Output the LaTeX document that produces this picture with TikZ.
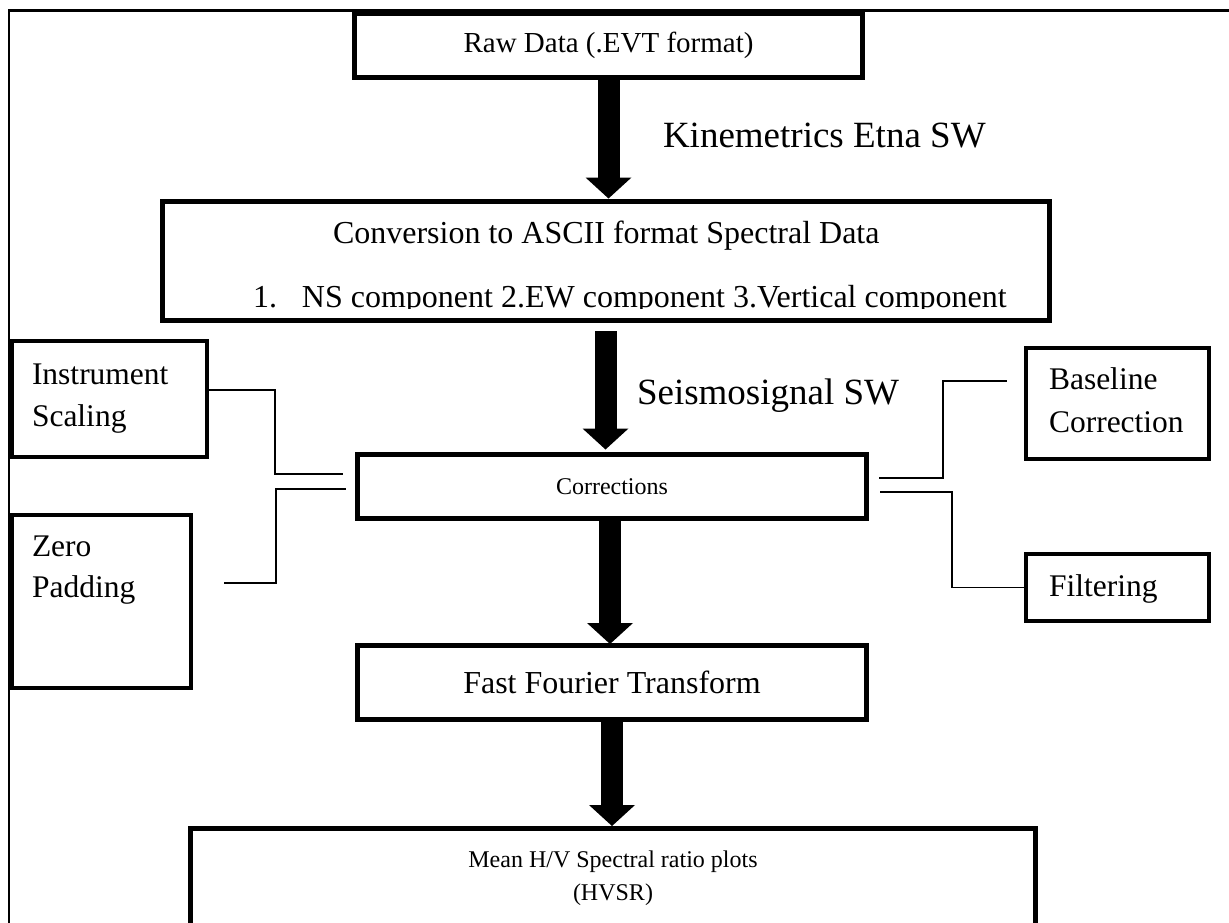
\documentclass[tikz,border=0pt]{standalone}
\usepackage{fontspec}
\setmainfont{Liberation Serif}
\usetikzlibrary{arrows.meta}
\tikzset{
  mainbox/.style={draw, line width=5pt, inner sep=0pt, outer sep=0pt},
  sidebox/.style={draw, line width=4pt, inner sep=0pt, outer sep=0pt},
  link/.style={line width=1.5pt},
  bigarrow/.style={line width=22pt, -{Triangle[width=46pt,length=21pt,line width=0pt]}},
  txt/.style={inner sep=0pt, outer sep=0pt, anchor=base west},
  fbig/.style={font=\fontsize{32}{38}\selectfont},
  fside/.style={font=\fontsize{31.5}{42}\selectfont},
  fsw/.style={font=\fontsize{37}{44}\selectfont},
}
\begin{document}
\begin{tikzpicture}[x=1pt, y=-1pt]
\useasboundingbox (0,0) rectangle (1229,923);
\clip (0,0) rectangle (1229,923);
% outer frame
\draw[line width=2.2pt] (9,940) -- (9,10.5) -- (1240,10.5);

% main boxes
\node[mainbox, minimum width=508pt, minimum height=64pt, font=\fontsize{29}{35}\selectfont] (raw) at (608.5,45.5) {Raw Data (.EVT format)};
\node[mainbox, minimum width=887pt, minimum height=119pt] (conv) at (606,261) {};
\begin{scope}
  \clip (165,204) rectangle (1047,308.5);
  \node[txt, fbig] (convA) at (333,243) {Conversion to ASCII format Spectral Data};
  \node[txt, fbig] (convB) at (253,307) {\makebox[49pt][l]{1.}NS component 2.EW component 3.Vertical component};
\end{scope}
\node[mainbox, minimum width=509pt, minimum height=64pt, font=\fontsize{24}{30}\selectfont] (corr) at (612,486.5) {Corrections};
\node[mainbox, minimum width=509pt, minimum height=74pt, fbig] (fft) at (612,682.5) {Fast Fourier Transform};
\node[mainbox, minimum width=845pt, minimum height=100pt, align=center, font=\fontsize{24}{33}\selectfont] (mean) at (613,878.5) {Mean H/V Spectral ratio plots\\(HVSR)};

% side boxes
\node[sidebox, minimum width=195pt, minimum height=116pt] (inst) at (109.5,399) {};
\node[txt, fside] (instA) at (32,384) {Instrument};
\node[txt, fside] (instB) at (32,426) {Scaling};
\node[sidebox, minimum width=179pt, minimum height=173pt] (zero) at (101.5,601.5) {};
\node[txt, fside] (zeroA) at (32,556) {Zero};
\node[txt, fside] (zeroB) at (32,597) {Padding};
\node[sidebox, minimum width=183pt, minimum height=111pt] (base) at (1117.5,403.5) {};
\node[txt, fside] (baseA) at (1049,389) {Baseline};
\node[txt, fside] (baseB) at (1049,432) {Correction};
\node[sidebox, minimum width=183pt, minimum height=67pt] (filt) at (1117.5,587.5) {};
\node[txt, fside] (filtA) at (1049,596) {Filtering};

% software labels
\node[txt, fsw] (kin) at (663,148) {Kinemetrics Etna SW};
\node[txt, fsw] (seis) at (637,404) {Seismosignal SW};

% thin connectors
\coordinate (l1) at (343,474);
\coordinate (z1) at (224,583);
\coordinate (l2) at (346,489);
\coordinate (r1) at (879,478);
\coordinate (b1) at (1007,381);
\coordinate (r2) at (880,492);
\draw[link] ([yshift=9pt]inst.east) -| (275,474) -- (l1);
\draw[link] (z1) -| (276,489) -- (l2);
\draw[link] (r1) -| (943,381) -- (b1);
\draw[link] (r2) -- (952,492) |- (filt.west);

% thick arrows
\coordinate (a2) at (605.5,331);
\draw[bigarrow, shorten >=3pt] (raw.south) -- (raw.south |- conv.north);
\draw[bigarrow, shorten >=5pt] (a2) -- (a2 |- corr.north);
\draw[bigarrow, shorten >=1.5pt] ([xshift=-2pt]corr.south) -- ([xshift=-2pt]fft.north);
\draw[bigarrow, shorten >=2.5pt] (fft.south) -- (fft.south |- mean.north);
\end{tikzpicture}
\end{document}
